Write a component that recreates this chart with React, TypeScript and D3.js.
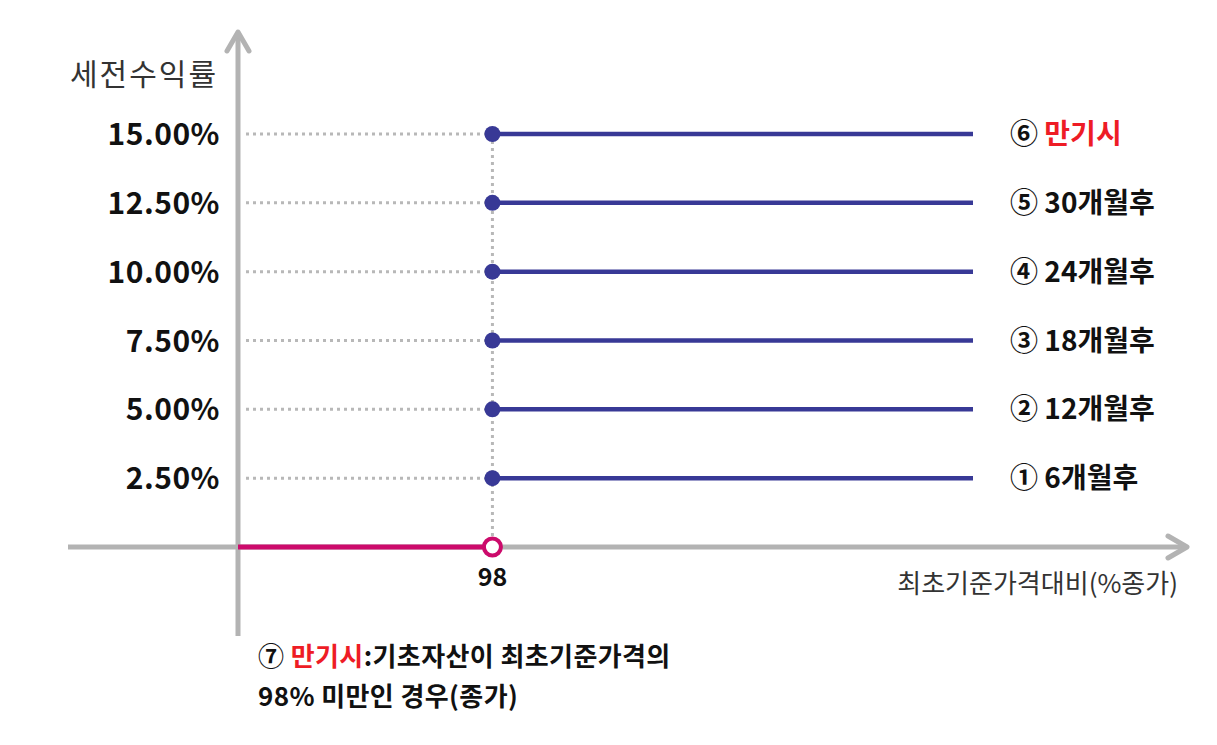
import { useEffect, useRef } from 'react'
import * as d3 from 'd3'

const yTicks = [2.5, 5, 7.5, 10, 12.5, 15]
const yTickLabels = ['2.50%', '5.00%', '7.50%', '10.00%', '12.50%', '15.00%']
const stepNums = ['①', '②', '③', '④', '⑤', '⑥']
const stepLabels = ['6개월후', '12개월후', '18개월후', '24개월후', '30개월후', '만기시']
const barrier = 98
const lineEnd = 132
const xDomain = [80, 132]
const yDomain = [0, 15]

const COLORS = {
  axis: '#b3b3b3',
  grid: '#b8b8b8',
  line: '#383996',
  loss: '#cc0a6b',
  red: '#ee1c25',
  text: '#111',
  muted: '#333',
}
const FONT = "'Noto Sans CJK KR', 'Malgun Gothic', sans-serif"

export default function App() {
  const svgRef = useRef<SVGSVGElement>(null)

  useEffect(() => {
    if (!svgRef.current) return
    const svg = d3.select(svgRef.current)
    svg.selectAll('*').remove()

    const x = d3.scaleLinear().domain(xDomain).range([238, 973])
    const y = d3.scaleLinear().domain(yDomain).range([547, 134])
    const x0 = x(xDomain[0])
    const y0 = y(0)

    const g = svg.append('g')

    // Axes with open arrowheads
    g.append('line')
      .attr('x1', x0).attr('x2', x0).attr('y1', 32).attr('y2', 636)
      .attr('stroke', COLORS.axis).attr('stroke-width', 5)
    g.append('path')
      .attr('d', `M${x0 - 11},51 L${x0},32 L${x0 + 11},51`)
      .attr('fill', 'none').attr('stroke', COLORS.axis).attr('stroke-width', 5)
      .attr('stroke-linecap', 'round').attr('stroke-linejoin', 'round')
    g.append('line')
      .attr('x1', 68).attr('x2', 1186).attr('y1', y0).attr('y2', y0)
      .attr('stroke', COLORS.axis).attr('stroke-width', 5)
    g.append('path')
      .attr('d', `M1168,${y0 - 11} L1187,${y0} L1168,${y0 + 11}`)
      .attr('fill', 'none').attr('stroke', COLORS.axis).attr('stroke-width', 5)
      .attr('stroke-linecap', 'round').attr('stroke-linejoin', 'round')

    // Dotted guides
    yTicks.forEach(v => {
      g.append('line')
        .attr('x1', x0 + 8).attr('x2', x(barrier)).attr('y1', y(v)).attr('y2', y(v))
        .attr('stroke', COLORS.grid).attr('stroke-width', 3)
        .attr('stroke-dasharray', '3 4')
    })
    g.append('line')
      .attr('x1', x(barrier)).attr('x2', x(barrier))
      .attr('y1', y(d3.max(yTicks)!)).attr('y2', y0 - 8)
      .attr('stroke', COLORS.grid).attr('stroke-width', 3)
      .attr('stroke-dasharray', '3 4')

    // Loss segment
    g.append('line')
      .attr('x1', x0).attr('x2', x(barrier)).attr('y1', y0).attr('y2', y0)
      .attr('stroke', COLORS.loss).attr('stroke-width', 5)
    g.append('circle')
      .attr('cx', x(barrier)).attr('cy', y0).attr('r', 8.5)
      .attr('fill', '#fff').attr('stroke', COLORS.loss).attr('stroke-width', 4)

    // Coupon lines
    yTicks.forEach(v => {
      g.append('line')
        .attr('x1', x(barrier)).attr('x2', x(lineEnd)).attr('y1', y(v)).attr('y2', y(v))
        .attr('stroke', COLORS.line).attr('stroke-width', 4.5)
      g.append('circle')
        .attr('cx', x(barrier)).attr('cy', y(v)).attr('r', 8)
        .attr('fill', COLORS.line)
    })

    // Y tick labels
    yTicks.forEach((v, i) => {
      g.append('text')
        .attr('x', 220).attr('y', y(v) + 11)
        .attr('text-anchor', 'end')
        .attr('font-family', FONT).attr('font-weight', 700)
        .attr('font-size', 30).attr('letter-spacing', 0.5).attr('fill', COLORS.text)
        .text(yTickLabels[i])
    })

    // Step labels
    yTicks.forEach((v, i) => {
      const t = g.append('text')
        .attr('x', 1010).attr('y', y(v) + 10)
        .attr('font-family', FONT).attr('font-weight', 700)
        .attr('font-size', 28).attr('fill', COLORS.text)
      t.append('tspan').text(stepNums[i] + ' ')
      t.append('tspan')
        .attr('fill', i === stepLabels.length - 1 ? COLORS.red : COLORS.text)
        .text(stepLabels[i])
    })

    // Axis titles
    g.append('text')
      .attr('x', 70).attr('y', 85)
      .attr('font-family', FONT).attr('font-size', 30).attr('letter-spacing', 2)
      .attr('fill', COLORS.muted)
      .text('세전수익률')
    g.append('text')
      .attr('x', 1178).attr('y', 593)
      .attr('text-anchor', 'end')
      .attr('font-family', FONT).attr('font-size', 26).attr('fill', COLORS.muted)
      .text('최초기준가격대비(%종가)')

    // Barrier tick
    g.append('text')
      .attr('x', x(barrier)).attr('y', 586)
      .attr('text-anchor', 'middle')
      .attr('font-family', FONT).attr('font-weight', 700)
      .attr('font-size', 25).attr('fill', COLORS.text)
      .text(String(barrier))

    // Note
    const note = g.append('text')
      .attr('x', 258).attr('y', 666)
      .attr('font-family', FONT).attr('font-weight', 700)
      .attr('font-size', 26).attr('letter-spacing', 0.4).attr('fill', COLORS.text)
    note.append('tspan').text('⑦ ')
    note.append('tspan').attr('fill', COLORS.red).text('만기시')
    note.append('tspan').text(':기초자산이 최초기준가격의')
    g.append('text')
      .attr('x', 258).attr('y', 706)
      .attr('font-family', FONT).attr('font-weight', 700)
      .attr('font-size', 26).attr('letter-spacing', 0.4).attr('fill', COLORS.text)
      .text(`${barrier}% 미만인 경우(종가)`)
  }, [])

  return (
    <svg
      ref={svgRef}
      width={1217}
      height={745}
      style={{ position: 'absolute', left: 0, top: 0, background: '#fff' }}
    />
  )
}
